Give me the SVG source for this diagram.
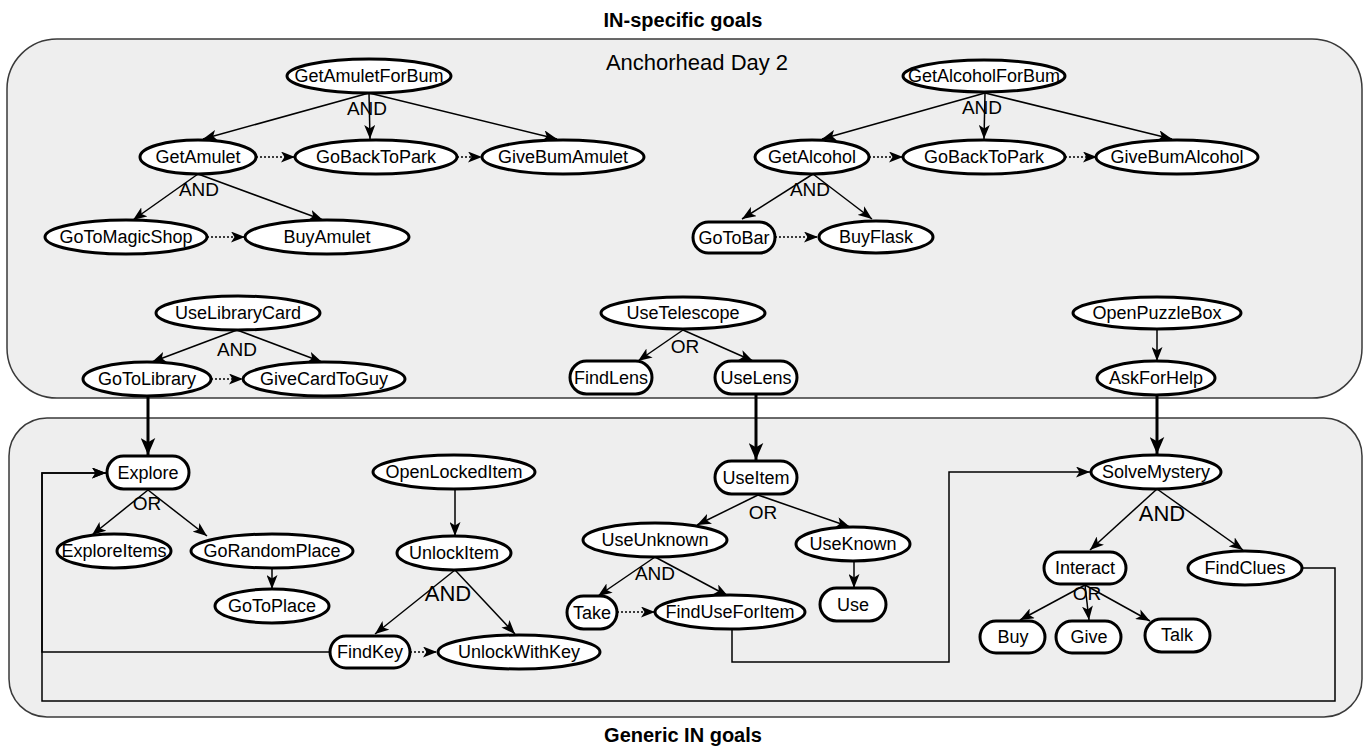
<svg xmlns="http://www.w3.org/2000/svg" width="1367" height="748" viewBox="0 0 1367 748">
<style>
.title{font-family:"Liberation Sans",Arial,sans-serif;font-size:20px;font-weight:bold;fill:#000;text-anchor:middle}
.cont{fill:#eeeeee;stroke:#3a3a3a;stroke-width:1.5}
.ctitle{font-family:"Liberation Sans",Arial,sans-serif;font-size:22px;fill:#000;text-anchor:middle;dominant-baseline:central}
.n ellipse,.n rect{fill:#fff;stroke:#000;stroke-width:3}
.n text{font-family:"Liberation Sans",Arial,sans-serif;font-size:18px;fill:#000;text-anchor:middle;dominant-baseline:central}
.e{fill:none;stroke:#000;stroke-width:1.5;marker-end:url(#arr)}
.d{fill:none;stroke:#000;stroke-width:1.5;stroke-dasharray:2 2;marker-end:url(#arr)}
.t{fill:none;stroke:#000;stroke-width:3;marker-end:url(#arrT)}
.lbl{font-family:"Liberation Sans",Arial,sans-serif;font-size:19px;fill:#000;text-anchor:middle;dominant-baseline:central}
.big{font-size:22px}
</style>
<defs>
<marker id="arr" viewBox="0 0 14 11" refX="14" refY="5.5" markerWidth="14" markerHeight="11" markerUnits="userSpaceOnUse" orient="auto">
<path d="M0,0 L14,5.5 L0,11 L3.5,5.5 Z" fill="#000"/>
</marker>
<marker id="arrT" viewBox="0 0 14 12" refX="14" refY="6" markerWidth="17" markerHeight="15" markerUnits="userSpaceOnUse" orient="auto">
<path d="M0,0 L14,6 L0,12 L3.5,6 Z" fill="#000"/>
</marker>
</defs>

<text class="title" x="683" y="27">IN-specific goals</text>
<text class="title" x="683" y="742">Generic IN goals</text>

<g id="container-top">
<rect class="cont" x="7" y="39" width="1355" height="359" rx="50" ry="50"/>
<text class="ctitle" x="697" y="62">Anchorhead Day 2</text>
</g>
<g id="container-bottom">
<rect class="cont" x="9" y="418" width="1353" height="299" rx="38" ry="38"/>
</g>

<g id="connectors">
<path class="e" d="M369,93 L203,139"/>
<path class="e" d="M369,93 L370,139"/>
<path class="e" d="M369,93 L557,139"/>
<path class="e" d="M198,174 L133,220"/>
<path class="e" d="M198,174 L323,220"/>
<path class="d" d="M256,157 L295,157"/>
<path class="d" d="M457,157 L482,157"/>
<path class="d" d="M207,237 L245,237"/>
<path class="e" d="M985,93 L822,139"/>
<path class="e" d="M985,93 L984,139"/>
<path class="e" d="M985,93 L1172,139"/>
<path class="e" d="M813,174 L742,219"/>
<path class="e" d="M813,174 L872,219"/>
<path class="d" d="M869,157 L903,157"/>
<path class="d" d="M1065,157 L1097,157"/>
<path class="d" d="M775,237 L818,237"/>
<path class="e" d="M237,330 L152,362"/>
<path class="e" d="M237,330 L322,362"/>
<path class="d" d="M211,379 L243,379"/>
<path class="e" d="M683,330 L638,361"/>
<path class="e" d="M683,330 L753,361"/>
<path class="e" d="M1157,330 L1157,361"/>
<path class="t" d="M148,396 L148,455"/>
<path class="t" d="M756,395 L756,460"/>
<path class="t" d="M1157,395 L1157,454"/>
<path class="e" d="M148,490 L92,535"/>
<path class="e" d="M148,490 L207,536"/>
<path class="e" d="M272,568 L272,589"/>
<path class="e" d="M455,489 L455,536"/>
<path class="e" d="M455,570 L375,634"/>
<path class="e" d="M455,570 L515,634"/>
<path class="d" d="M410,652 L437,652"/>
<path class="e" d="M758,495 L697,525"/>
<path class="e" d="M758,495 L850,527"/>
<path class="e" d="M655,557 L598,596"/>
<path class="e" d="M655,557 L728,596"/>
<path class="d" d="M617,612 L655,612"/>
<path class="e" d="M854,561 L854,588"/>
<path class="e" d="M1157,489 L1090,550"/>
<path class="e" d="M1157,489 L1243,550"/>
<path class="e" d="M1085,585 L1020,620"/>
<path class="e" d="M1085,585 L1089,620"/>
<path class="e" d="M1085,585 L1150,621"/>
<path class="e" d="M732,629 V662 H949 V472 H1090"/>
<path class="e" d="M330,652 H42 V473 H106"/>
<path class="e" d="M1302,568 H1335 V701 H42 V473 H106"/>
</g>

<g id="labels">
<text class="lbl" x="367" y="108">AND</text>
<text class="lbl" x="199" y="189">AND</text>
<text class="lbl" x="982" y="107">AND</text>
<text class="lbl" x="810" y="189">AND</text>
<text class="lbl" x="237" y="349">AND</text>
<text class="lbl" x="685" y="346">OR</text>
<text class="lbl" x="147" y="503">OR</text>
<text class="lbl big" x="448" y="593">AND</text>
<text class="lbl" x="763" y="512">OR</text>
<text class="lbl" x="655" y="573">AND</text>
<text class="lbl big" x="1162" y="513">AND</text>
<text class="lbl" x="1087" y="593">OR</text>
</g>

<g id="GetAmuletForBum" class="n"><ellipse cx="369" cy="76" rx="82" ry="17"/><text x="369" y="76">GetAmuletForBum</text></g>
<g id="GetAmulet" class="n"><ellipse cx="198" cy="157" rx="58" ry="17"/><text x="198" y="157">GetAmulet</text></g>
<g id="GoBackToPark1" class="n"><ellipse cx="376" cy="157" rx="81" ry="17"/><text x="376" y="157">GoBackToPark</text></g>
<g id="GiveBumAmulet" class="n"><ellipse cx="563" cy="157" rx="81" ry="17"/><text x="563" y="157">GiveBumAmulet</text></g>
<g id="GoToMagicShop" class="n"><ellipse cx="126" cy="237" rx="81" ry="17"/><text x="126" y="237">GoToMagicShop</text></g>
<g id="BuyAmulet" class="n"><ellipse cx="327" cy="237" rx="82" ry="17"/><text x="327" y="237">BuyAmulet</text></g>

<g id="GetAlcoholForBum" class="n"><ellipse cx="984" cy="76" rx="81" ry="16"/><text x="984" y="76">GetAlcoholForBum</text></g>
<g id="GetAlcohol" class="n"><ellipse cx="812" cy="157" rx="57" ry="17"/><text x="812" y="157">GetAlcohol</text></g>
<g id="GoBackToPark2" class="n"><ellipse cx="984" cy="157" rx="81" ry="17"/><text x="984" y="157">GoBackToPark</text></g>
<g id="GiveBumAlcohol" class="n"><ellipse cx="1177" cy="157" rx="81" ry="17"/><text x="1177" y="157">GiveBumAlcohol</text></g>
<g id="GoToBar" class="n"><rect x="693" y="222" width="82" height="31" rx="15.5"/><text x="734" y="238">GoToBar</text></g>
<g id="BuyFlask" class="n"><ellipse cx="876" cy="237" rx="57" ry="16"/><text x="876" y="237">BuyFlask</text></g>

<g id="UseLibraryCard" class="n"><ellipse cx="238" cy="313" rx="82" ry="17"/><text x="238" y="313">UseLibraryCard</text></g>
<g id="GoToLibrary" class="n"><ellipse cx="147" cy="379" rx="64" ry="17"/><text x="147" y="379">GoToLibrary</text></g>
<g id="GiveCardToGuy" class="n"><ellipse cx="324" cy="379" rx="81" ry="17"/><text x="324" y="379">GiveCardToGuy</text></g>

<g id="UseTelescope" class="n"><ellipse cx="683" cy="313" rx="82" ry="16"/><text x="683" y="313">UseTelescope</text></g>
<g id="FindLens" class="n"><rect x="570" y="361" width="82" height="33" rx="16.5"/><text x="611" y="378">FindLens</text></g>
<g id="UseLens" class="n"><rect x="715" y="361" width="82" height="33" rx="16.5"/><text x="756" y="378">UseLens</text></g>

<g id="OpenPuzzleBox" class="n"><ellipse cx="1157" cy="313" rx="84" ry="16"/><text x="1157" y="313">OpenPuzzleBox</text></g>
<g id="AskForHelp" class="n"><ellipse cx="1156" cy="378" rx="59" ry="17"/><text x="1156" y="378">AskForHelp</text></g>

<g id="Explore" class="n"><rect x="107" y="456" width="82" height="33" rx="16.5"/><text x="148" y="473">Explore</text></g>
<g id="ExploreItems" class="n"><ellipse cx="114" cy="551" rx="57" ry="17"/><text x="114" y="551">ExploreItems</text></g>
<g id="GoRandomPlace" class="n"><ellipse cx="272" cy="551" rx="81" ry="17"/><text x="272" y="551">GoRandomPlace</text></g>
<g id="GoToPlace" class="n"><ellipse cx="272" cy="606" rx="57" ry="17"/><text x="272" y="606">GoToPlace</text></g>

<g id="OpenLockedItem" class="n"><ellipse cx="454" cy="472" rx="81" ry="17"/><text x="454" y="472">OpenLockedItem</text></g>
<g id="UnlockItem" class="n"><ellipse cx="454" cy="553" rx="57" ry="17"/><text x="454" y="553">UnlockItem</text></g>
<g id="FindKey" class="n"><rect x="330" y="636" width="80" height="32" rx="16"/><text x="370" y="652">FindKey</text></g>
<g id="UnlockWithKey" class="n"><ellipse cx="519" cy="652" rx="81" ry="17"/><text x="519" y="652">UnlockWithKey</text></g>

<g id="UseItem" class="n"><rect x="715" y="461" width="82" height="33" rx="16.5"/><text x="756" y="478">UseItem</text></g>
<g id="UseUnknown" class="n"><ellipse cx="655" cy="540" rx="72" ry="17"/><text x="655" y="540">UseUnknown</text></g>
<g id="UseKnown" class="n"><ellipse cx="853" cy="544" rx="57" ry="17"/><text x="853" y="544">UseKnown</text></g>
<g id="Take" class="n"><rect x="567" y="596" width="50" height="33" rx="16.5"/><text x="592" y="613">Take</text></g>
<g id="FindUseForItem" class="n"><ellipse cx="730" cy="612" rx="75" ry="17"/><text x="730" y="612">FindUseForItem</text></g>
<g id="Use" class="n"><rect x="820" y="588" width="66" height="33" rx="16.5"/><text x="853" y="605">Use</text></g>

<g id="SolveMystery" class="n"><ellipse cx="1156" cy="472" rx="65" ry="17"/><text x="1156" y="472">SolveMystery</text></g>
<g id="Interact" class="n"><rect x="1044" y="552" width="82" height="32" rx="16"/><text x="1085" y="568">Interact</text></g>
<g id="FindClues" class="n"><ellipse cx="1245" cy="568" rx="57" ry="17"/><text x="1245" y="568">FindClues</text></g>
<g id="Buy" class="n"><rect x="980" y="621" width="65" height="32" rx="16"/><text x="1013" y="637">Buy</text></g>
<g id="Give" class="n"><rect x="1056" y="621" width="65" height="32" rx="16"/><text x="1089" y="637">Give</text></g>
<g id="Talk" class="n"><rect x="1145" y="619" width="65" height="33" rx="16.5"/><text x="1177" y="635">Talk</text></g>
</svg>
